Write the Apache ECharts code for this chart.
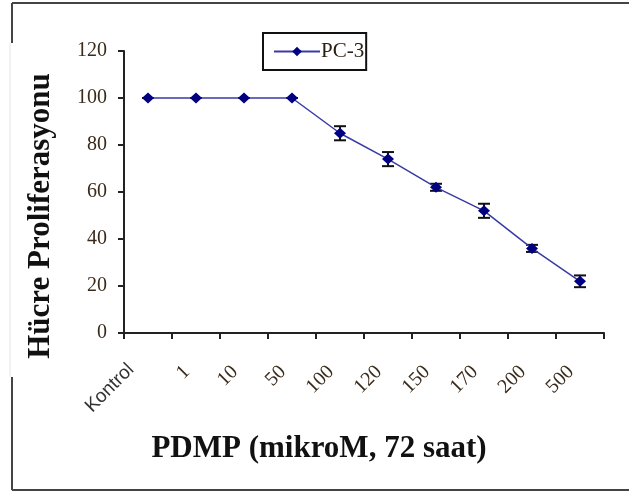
<!DOCTYPE html>
<html>
<head>
<meta charset="utf-8">
<script src="https://cdn.jsdelivr.net/npm/echarts@6/dist/echarts.min.js"></script>
<style>
html,body{margin:0;padding:0;background:#fff;}
#c{width:629px;height:495px;}
</style>
</head>
<body>
<div id="c"></div>
<script>
var categories = ['Kontrol', '1', '10', '50', '100', '120', '150', '170', '200', '500'];
var pc3Values = [100, 100, 100, 100, 85, 74, 62, 52, 36, 22];
var pc3Errors = [0, 0, 0, 0, 3, 3, 1.5, 3, 1.5, 2.5];
var yTicks = [0, 20, 40, 60, 80, 100, 120];

var chart = echarts.init(document.getElementById('c'), null, {renderer: 'canvas'});
var serif = '"Liberation Serif", "Times New Roman", serif';

var errData = categories.map(function (c, i) {
  return [i, pc3Values[i] - pc3Errors[i], pc3Values[i] + pc3Errors[i]];
});

chart.setOption({
  animation: false,
  backgroundColor: '#fff',
  grid: {left: 124, right: 25, top: 51, bottom: 162, containLabel: false},
  legend: {
    left: 263, top: 33,
    data: [{name: 'PC-3'}],
    itemWidth: 46, itemHeight: 12,
    padding: [8, 2, 8, 10],
    borderColor: '#111', borderWidth: 2, borderRadius: 0,
    textStyle: {fontFamily: serif, fontSize: 21, color: '#2a2016', padding: [0, 0, 0, -4]}
  },
  xAxis: {
    type: 'category',
    data: categories,
    boundaryGap: true,
    axisLine: {lineStyle: {color: '#222', width: 2}},
    axisTick: {show: true, length: 6, alignWithLabel: false, lineStyle: {color: '#222', width: 2}},
    axisLabel: {
      rotate: 45, margin: 31, interval: 0,
      formatter: function (v) { return v === 'Kontrol' ? '{s|' + v + '}' : '{n|' + v + '}'; },
      rich: {
        s: {fontFamily: '"Liberation Sans", Arial, sans-serif', fontSize: 19, color: '#333', padding: [0, 14, 20, 0]},
        n: {fontFamily: serif, fontSize: 20, color: '#3a2a1a', padding: [0, 10, 6, 0]}
      }
    },
    splitLine: {show: false}
  },
  yAxis: {
    type: 'value', min: 0, max: 120, interval: 20,
    axisLine: {show: true, lineStyle: {color: '#222', width: 2}},
    axisTick: {show: true, length: 6, lineStyle: {color: '#222', width: 2}},
    axisLabel: {margin: 17, fontFamily: serif, fontSize: 20, color: '#3a2a1a',
      formatter: function (v) { return yTicks.indexOf(v) >= 0 ? String(v) : ''; }},
    splitLine: {show: false}
  },
  series: [
    {
      name: 'errors',
      type: 'custom',
      z: 1,
      data: errData,
      renderItem: function (params, api) {
        var x = api.value(0);
        var lo = api.coord([x, api.value(1)]);
        var hi = api.coord([x, api.value(2)]);
        var hw = 6;
        var style = {stroke: '#111', lineWidth: 2};
        return {
          type: 'group',
          children: [
            {type: 'line', shape: {x1: lo[0], y1: lo[1], x2: hi[0], y2: hi[1]}, style: style},
            {type: 'line', shape: {x1: lo[0] - hw, y1: lo[1], x2: lo[0] + hw, y2: lo[1]}, style: style},
            {type: 'line', shape: {x1: hi[0] - hw, y1: hi[1], x2: hi[0] + hw, y2: hi[1]}, style: style}
          ]
        };
      }
    },
    {
      name: 'PC-3',
      type: 'line',
      z: 3,
      data: pc3Values,
      symbol: 'diamond',
      symbolSize: [12, 11],
      lineStyle: {color: '#3a3aa6', width: 1.5},
      itemStyle: {color: '#000080'}
    }
  ],
  graphic: [
    {type: 'line', shape: {x1: 12, y1: 3, x2: 629, y2: 3}, style: {stroke: '#444', lineWidth: 2}},
    {type: 'line', shape: {x1: 12, y1: 490, x2: 629, y2: 490}, style: {stroke: '#444', lineWidth: 2}},
    {type: 'line', shape: {x1: 12, y1: 3, x2: 12, y2: 43}, style: {stroke: '#444', lineWidth: 2}},
    {type: 'line', shape: {x1: 12, y1: 377, x2: 12, y2: 490}, style: {stroke: '#444', lineWidth: 2}},
    {type: 'line', shape: {x1: 10, y1: 43, x2: 10, y2: 377}, style: {stroke: '#e4e4e4', lineWidth: 1}},
    {
      type: 'text',
      position: [319, 449],
      style: {
        text: 'PDMP (mikroM, 72 saat)',
        font: 'bold 31px "Liberation Serif", "Times New Roman", serif',
        fill: '#111',
        textAlign: 'center', textVerticalAlign: 'middle'
      }
    },
    {
      type: 'text',
      position: [41, 216],
      rotation: Math.PI / 2,
      style: {
        text: 'Hücre Proliferasyonu',
        font: 'bold 31px "Liberation Serif", "Times New Roman", serif',
        fill: '#111',
        textAlign: 'center', textVerticalAlign: 'middle'
      }
    }
  ]
});
</script>
</body>
</html>
